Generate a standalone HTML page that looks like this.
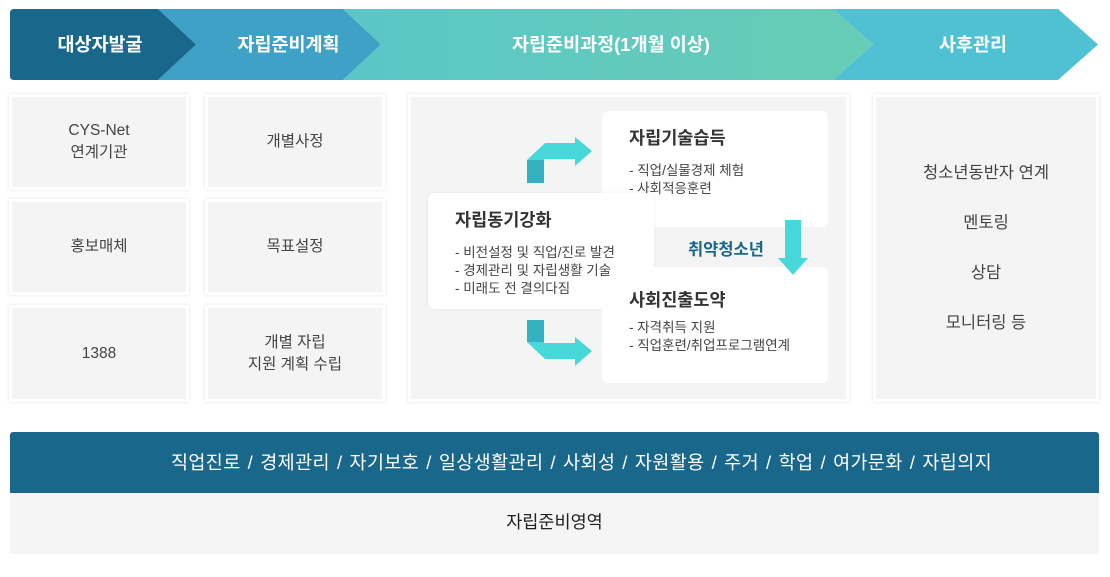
<!DOCTYPE html>
<html><head><meta charset="utf-8"><style>
*{margin:0;padding:0;box-sizing:border-box}
body{width:1110px;height:577px;background:#fff;position:relative;overflow:hidden;font-family:"Liberation Sans","Noto Sans CJK KR",sans-serif;color:#444}
.a{position:absolute}
.box{position:absolute;background:#f4f4f4;border:3px solid #fff;box-shadow:0 0 3px rgba(0,0,0,.12);display:flex;align-items:center;justify-content:center;text-align:center;font-size:15.5px;line-height:22px;color:#444}
.card{position:absolute;background:#fff;border-radius:6px;padding:14px 0 0 27px;color:#444}
.card h3{font-size:17.5px;font-weight:bold;margin-bottom:12px;color:#333}
.card p{font-size:13.5px;line-height:18px}
.hl{position:absolute;top:9px;height:71px;line-height:71px;color:#fff;font-weight:bold;font-size:18.5px;text-align:center}
</style></head><body>
<svg class="a" style="left:0;top:0" width="1110" height="90">
<defs><linearGradient id="g" x1="0" x2="1"><stop offset="0" stop-color="#5bc6c7"/><stop offset="1" stop-color="#67cdb5"/></linearGradient></defs>
<polygon points="833,9 1058,9 1098,44.5 1058,80 833,80 873,44.5" fill="#50c1d2"/>
<polygon points="343,9 833,9 873,44.5 833,80 343,80 381,44.5" fill="url(#g)"/>
<polygon points="158,9 343,9 381,44.5 343,80 158,80 196,44.5" fill="#3fa1c6"/>
<path d="M14,9 H158 L196,44.5 L158,80 H14 Q10,80 10,76 V13 Q10,9 14,9Z" fill="#1a678c"/>
</svg>
<div class="hl" style="left:10px;width:180px">대상자발굴</div>
<div class="hl" style="left:196px;width:185px">자립준비계획</div>
<div class="hl" style="left:381px;width:460px">자립준비과정(1개월 이상)</div>
<div class="hl" style="left:873px;width:200px">사후관리</div>

<div class="box" style="left:9px;top:94px;width:180px;height:96px">CYS-Net<br>연계기관</div>
<div class="box" style="left:9px;top:199px;width:180px;height:96px">홍보매체</div>
<div class="box" style="left:9px;top:305px;width:180px;height:97px">1388</div>
<div class="box" style="left:205px;top:94px;width:180px;height:96px">개별사정</div>
<div class="box" style="left:205px;top:199px;width:180px;height:96px">목표설정</div>
<div class="box" style="left:205px;top:305px;width:180px;height:97px">개별 자립<br>지원 계획 수립</div>
<div class="box" style="left:408px;top:94px;width:441px;height:308px"></div>
<div class="box" style="left:873px;top:94px;width:226px;height:308px;line-height:50px;font-size:16.5px">청소년동반자 연계<br>멘토링<br>상담<br>모니터링 등</div>

<div class="card" style="left:602px;top:111px;width:226px;height:116px"><h3>자립기술습득</h3><p>- 직업/실물경제 체험<br>- 사회적응훈련</p></div>
<div class="card" style="left:428px;top:193px;width:226px;height:116px;box-shadow:0 0 3px rgba(0,0,0,.08)"><h3>자립동기강화</h3><p>- 비전설정 및 직업/진로 발견<br>- 경제관리 및 자립생활 기술<br>- 미래도 전 결의다짐</p></div>
<div class="a" style="left:602px;top:309px;width:226px;height:74px;background:#fff;border-radius:0 0 6px 6px"></div>
<div class="a" style="left:654px;top:267px;width:174px;height:42px;background:#fff;border-radius:0 6px 0 0"></div>
<div class="a" style="left:629px;top:287px;font-size:17.5px;font-weight:bold;color:#333">사회진출도약</div>
<div class="a" style="left:629px;top:319px;font-size:13.5px;line-height:18px">- 자격취득 지원<br>- 직업훈련/취업프로그램연계</div>
<div class="a" style="left:688px;top:236px;font-size:16.5px;font-weight:bold;color:#1a678c">취약청소년</div>

<svg class="a" style="left:0;top:0" width="1110" height="577">
<polygon points="527,160 544,160 544,183 527,183" fill="#35b0c0"/>
<polygon points="527,160 545,143 575,143 575,137 592,151 575,166 575,159 544,159 544,160" fill="#47d9d9"/>
<polygon points="527,320 544,320 544,342 527,342" fill="#35b0c0"/>
<polygon points="527,342 544,342 544,343 575,343 575,337 592,351 575,366 575,359 545,359" fill="#47d9d9"/>
<polygon points="785,220 801,220 801,258 808,258 793,275 778,258 785,258" fill="#47d9d9"/>
</svg>

<div class="a" style="left:10px;top:432px;width:1089px;height:61px;background:#1a678c;border-radius:3px 3px 0 0;color:#fff;font-size:18.5px;letter-spacing:0.4px;word-spacing:1.5px;line-height:61px;text-align:center;padding-left:54px">직업진로 / 경제관리 / 자기보호 / 일상생활관리 / 사회성 / 자원활용 / 주거 / 학업 / 여가문화 / 자립의지</div>
<div class="a" style="left:10px;top:493px;width:1089px;height:61px;background:#f5f5f5;border-radius:0 0 3px 3px;color:#222;font-size:17.5px;line-height:58px;text-align:center">자립준비영역</div>
</body></html>
